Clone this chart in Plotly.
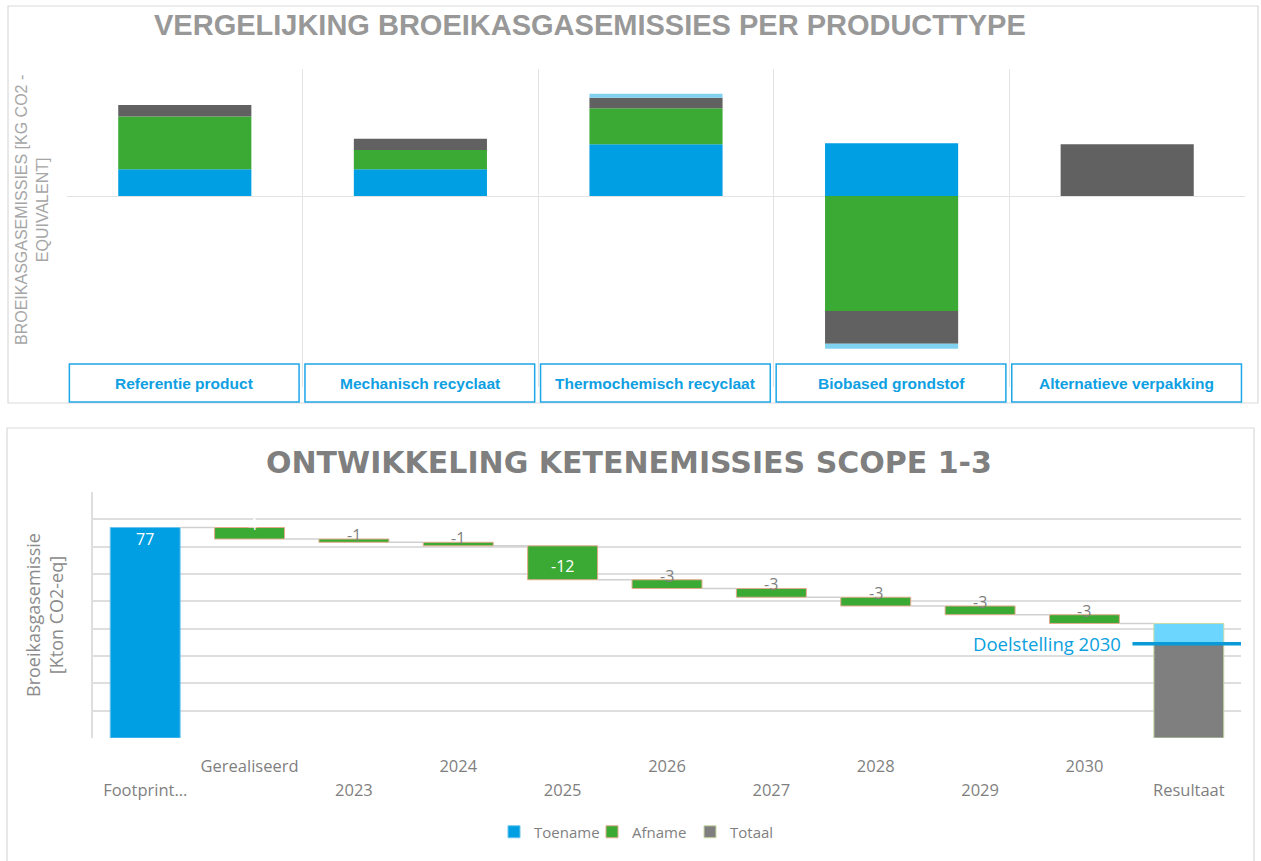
import plotly.graph_objects as go

# ---------------- Top chart data ----------------
product_types = ["Referentie product", "Mechanisch recyclaat", "Thermochemisch recyclaat",
                 "Biobased grondstof", "Alternatieve verpakking"]
grondstoffen = [2.67, 2.67, 5.17, 5.27, 0.0]
productie = [5.27, 1.93, 3.60, -11.50, 0.0]
einde_levensduur = [1.17, 1.13, 1.06, -3.27, 5.17]
transport = [0.0, 0.0, 0.40, -0.50, 0.0]

# ---------------- Bottom chart data ----------------
steps = ["Footprint…", "Gerealiseerd", "2023", "2024", "2025", "2026",
         "2027", "2028", "2029", "2030", "Resultaat"]
footprint = 77
changes = [-4.2, -1.2, -1.3, -12.4, -3.2, -3.2, -3.2, -3.2, -3.2]
doelstelling_2030 = 34.5

W, H = 1261, 861
def px(x):
    return x / W
def py(y):
    return 1 - y / H

BLUE = "#009FE3"
GREEN = "#3BAA35"
DGRAY = "#616161"
LBLUE = "#80D0F0"
TXT = "#7F7F7F"
GRID = "#DEDEDE"

fig = go.Figure()

# ---------- top: stacked (relative) bars with explicit bases ----------
n = len(product_types)
pos = [0.0] * n
neg = [0.0] * n
xs = list(range(n))
for name, vals, col in [("Grondstoffen", grondstoffen, BLUE),
                        ("Productie", productie, GREEN),
                        ("Einde levensduur", einde_levensduur, DGRAY),
                        ("Transport", transport, LBLUE)]:
    bases = []
    for i, v in enumerate(vals):
        if v >= 0:
            bases.append(pos[i]); pos[i] += v
        else:
            bases.append(neg[i]); neg[i] += v
    fig.add_bar(x=xs, y=vals, base=bases, name=name, marker_color=col,
                marker_line_width=0, width=0.565, showlegend=False,
                xaxis="x", yaxis="y", hoverinfo="skip")

# category boxes
for i, cat in enumerate(product_types):
    fig.add_shape(type="rect", xref="x", yref="paper", x0=i - 0.49, x1=i + 0.485,
                  y0=py(402), y1=py(364), line=dict(color="#1EA7E8", width=1.5),
                  fillcolor="white", layer="above")
    fig.add_annotation(xref="x", yref="paper", x=i - 0.0025, y=py(383), text="<b>%s</b>" % cat,
                       xanchor="center", yanchor="middle", showarrow=False,
                       font=dict(family="Liberation Sans, Arial", size=15.5, color="#0EA0E2"))

# ---------- bottom: waterfall built from bars ----------
levels = [footprint]
for c in changes:
    levels.append(levels[-1] + c)
final = levels[-1]
idx = list(range(len(steps)))

fig.add_bar(x=[0], y=[footprint], base=[0], name="Toename", marker_color=BLUE,
            marker_line=dict(color="#6CC4EE", width=1), width=0.67,
            xaxis="x2", yaxis="y2", hoverinfo="skip")
fig.add_bar(x=idx[1:1 + len(changes)], y=changes, base=levels[:-1], name="Afname",
            marker_color=GREEN, marker_line=dict(color="#E3A98C", width=1), width=0.67,
            xaxis="x2", yaxis="y2", hoverinfo="skip")
fig.add_bar(x=[idx[-1]], y=[doelstelling_2030], base=[0], name="Totaal", marker_color="#7F7F7F",
            marker_line=dict(color="#C6DBA6", width=1), width=0.67,
            xaxis="x2", yaxis="y2", hoverinfo="skip")
fig.add_bar(x=[idx[-1]], y=[final - doelstelling_2030], base=[doelstelling_2030], name="Gap",
            marker_color="#6DD6FF", marker_line=dict(color="#C6DBA6", width=1), width=0.67,
            showlegend=False, xaxis="x2", yaxis="y2", hoverinfo="skip")

# connectors
cx, cy = [], []
for i in range(len(levels)):
    cx += [i + 0.335, i + 1 - 0.335, None]
    cy += [levels[i], levels[i], None]
fig.add_scatter(x=cx, y=cy, mode="lines", line=dict(color="#D0D0D0", width=1.5),
                showlegend=False, hoverinfo="skip", xaxis="x2", yaxis="y2")

# data labels
lab_font = "Open Sans"
fig.add_annotation(xref="x2", yref="y2", x=0, y=footprint, yanchor="top", yshift=2,
                   text=str(footprint), showarrow=False,
                   font=dict(family=lab_font, size=16, color="white"))
for i, c in enumerate(changes):
    xi = i + 1
    if abs(c) >= 10:
        fig.add_annotation(xref="x2", yref="y2", x=xi, y=levels[i + 1], yanchor="bottom", yshift=1,
                           text=str(round(c)), showarrow=False,
                           font=dict(family=lab_font, size=16, color="white"))
    else:
        colr = "white" if abs(c) >= 4 else TXT
        fig.add_annotation(xref="x2", yref="y2", x=xi, y=levels[i], yanchor="middle", yshift=4,
                           text=str(round(c)), showarrow=False,
                           font=dict(family=lab_font, size=16, color=colr))

# Doelstelling line
fig.add_shape(type="line", xref="x2", yref="y2", x0=idx[-1] - 0.54, x1=idx[-1] + 0.52,
              y0=doelstelling_2030, y1=doelstelling_2030, line=dict(color="#0A9AD8", width=3.5),
              layer="above")
fig.add_annotation(xref="x2", yref="y2", x=idx[-1] - 0.54, y=doelstelling_2030, xanchor="right",
                   yanchor="middle", xshift=-9, text="Doelstelling 2030", showarrow=False,
                   font=dict(family=lab_font, size=18.5, color="#0BA0DE"))

# staggered tick labels: odd positions upper row, even positions lower row
upper_vals = [i for i in idx if i % 2 == 1]
lower_vals = [i for i in idx if i % 2 == 0]

# frames
fig.add_shape(type="rect", xref="paper", yref="paper", x0=px(8), x1=px(1258), y0=py(403), y1=py(6),
              line=dict(color="#D9D9D9", width=1.2), layer="below")
fig.add_shape(type="rect", xref="paper", yref="paper", x0=px(7), x1=px(1254), y0=py(866), y1=py(428),
              line=dict(color="#D9D9D9", width=1.2), layer="below")

# titles
fig.add_annotation(xref="paper", yref="paper", x=px(590), y=py(25), xanchor="center", yanchor="middle",
                   text="<b>VERGELIJKING BROEIKASGASEMISSIES PER PRODUCTTYPE</b>", showarrow=False,
                   font=dict(family="Liberation Sans, Arial", size=29, color="#989898"))
fig.add_annotation(xref="paper", yref="paper", x=px(32), y=py(210), textangle=-90,
                   xanchor="center", yanchor="middle",
                   text="BROEIKASGASEMISSIES [KG CO2 -<br>EQUIVALENT]", showarrow=False,
                   font=dict(family="Liberation Sans, Arial", size=16, color="#A6A6A6"))
fig.add_annotation(xref="paper", yref="paper", x=px(629), y=py(462), xanchor="center", yanchor="middle",
                   text="<b>ONTWIKKELING KETENEMISSIES SCOPE 1-3</b>", showarrow=False,
                   font=dict(family="DejaVu Sans", size=30, color="#7F7F7F"))
fig.add_annotation(xref="paper", yref="paper", x=px(44), y=py(615), textangle=-90,
                   xanchor="center", yanchor="middle",
                   text="Broeikasgasemissie<br>[Kton CO2-eq]", showarrow=False,
                   font=dict(family="Open Sans", size=18, color="#8C8C8C"))

tickfont = dict(family="Open Sans", size=16.5, color=TXT)
fig.update_layout(
    width=W, height=H, margin=dict(l=0, r=0, t=0, b=0),
    paper_bgcolor="white", plot_bgcolor="white", barmode="overlay",
    font=dict(family="Open Sans", color=TXT),
    xaxis=dict(domain=[px(67), px(1245)], range=[-0.5, n - 0.5], anchor="y",
               tickvals=[i - 0.5 for i in range(n + 1)], showticklabels=False,
               showgrid=True, gridcolor="#E3E3E3", gridwidth=1.2, zeroline=False, fixedrange=True),
    yaxis=dict(domain=[py(387), py(69)], range=[-19.1, 12.7], showticklabels=False, anchor="x",
               showgrid=False, zeroline=True, zerolinecolor="#E3E3E3", zerolinewidth=1.2,
               fixedrange=True),
    xaxis2=dict(domain=[px(93), px(1241)], range=[-0.5, len(steps) - 0.5], anchor="y2",
                tickvals=upper_vals, ticktext=[steps[i] for i in upper_vals],
                showgrid=False, zeroline=False, tickfont=tickfont, ticks="",
                ticklabelstandoff=16, fixedrange=True),
    xaxis3=dict(domain=[px(93), px(1241)], range=[-0.5, len(steps) - 0.5], anchor="y2",
                overlaying="x2", side="bottom", matches="x2",
                tickvals=lower_vals, ticktext=[steps[i] for i in lower_vals],
                showgrid=False, zeroline=False, tickfont=tickfont, ticks="",
                ticklabelstandoff=40, fixedrange=True),
    yaxis2=dict(domain=[py(738), py(492)], range=[0, 90], dtick=10, showticklabels=False, anchor="x2",
                showgrid=True, gridcolor=GRID, gridwidth=1.5, zeroline=False,
                showline=True, linecolor=GRID, linewidth=1.5, fixedrange=True),
    legend=dict(orientation="h", x=px(641), xanchor="center", y=py(832), yanchor="middle",
                font=dict(family="Open Sans", size=15, color=TXT), itemwidth=30,
                entrywidth=53, entrywidthmode="pixels", bgcolor="rgba(0,0,0,0)"),
)

# invisible trace so the third (label) axis is drawn
fig.add_scatter(x=[lower_vals[0]], y=[0], mode="markers", marker=dict(opacity=0),
                showlegend=False, hoverinfo="skip", xaxis="x3", yaxis="y2")

fig.write_html("out.html", config={"displayModeBar": False},
               post_script="document.body.style.margin='0';document.body.style.overflow='hidden';")
